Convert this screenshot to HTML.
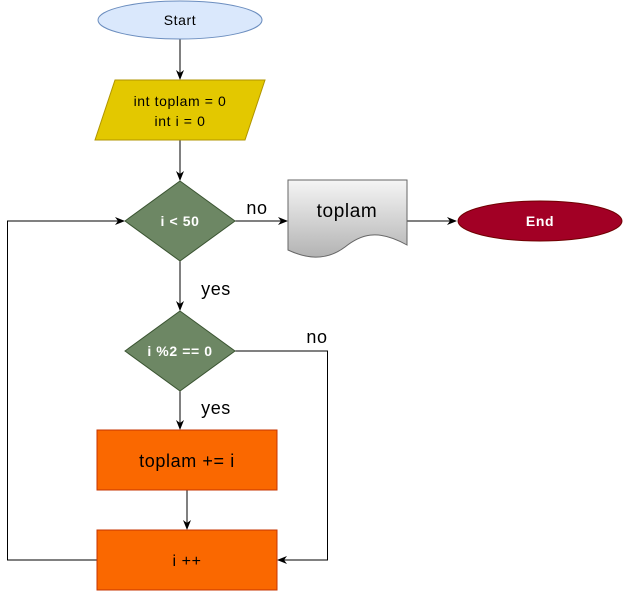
<!DOCTYPE html>
<html><head><meta charset="utf-8"><style>
html,body{margin:0;padding:0;background:#fff;width:623px;height:591px;overflow:hidden}
svg{display:block}
text{font-family:"Comic Sans MS","Liberation Sans",sans-serif;letter-spacing:0.6px}
</style></head><body>
<svg width="623" height="591" viewBox="0 0 623 591" xmlns="http://www.w3.org/2000/svg">
<defs>
<marker id="a" markerWidth="10" markerHeight="10" refX="9" refY="5" orient="auto" markerUnits="userSpaceOnUse">
<path d="M0,1 L10,5 L0,9 L3,5 Z" fill="#000"/></marker>
<linearGradient id="g" x1="0" y1="0" x2="0" y2="1"><stop offset="0" stop-color="#f5f5f5"/><stop offset="1" stop-color="#b3b3b3"/></linearGradient>
</defs>
<g stroke="#000" stroke-width="1" fill="none">
<line x1="180" y1="39" x2="180" y2="79" marker-end="url(#a)"/>
<line x1="180" y1="140" x2="180" y2="180" marker-end="url(#a)"/>
<line x1="235" y1="221" x2="287" y2="221" marker-end="url(#a)"/>
<line x1="407" y1="221" x2="456" y2="221" marker-end="url(#a)"/>
<line x1="180" y1="261" x2="180" y2="310" marker-end="url(#a)"/>
<line x1="180" y1="391" x2="180" y2="429" marker-end="url(#a)"/>
<line x1="187" y1="490" x2="187" y2="529" marker-end="url(#a)"/>
<polyline points="235,351 327.5,351 327.5,560 278,560" marker-end="url(#a)"/>
<polyline points="97,560 7.5,560 7.5,221 124,221" marker-end="url(#a)"/>
</g>
<ellipse cx="180" cy="20" rx="82" ry="19" fill="#dae8fc" stroke="#6c8ebf"/>
<text x="180" y="25" font-size="14" text-anchor="middle">Start</text>
<polygon points="115,80 265,80 245,140 95,140" fill="#e3c800" stroke="#b09500"/>
<text x="180" y="106" font-size="14" text-anchor="middle">int toplam = 0</text>
<text x="180" y="126" font-size="14" text-anchor="middle">int i = 0</text>
<polygon points="180,181 235,221 180,261 125,221" fill="#6d8764" stroke="#3a5431"/>
<text x="180" y="226" font-size="14" fill="#fff" font-weight="bold" text-anchor="middle">i &lt; 50</text>
<path d="M288,180 L407,180 L407,245 C377,228 360,235 345,247 C325,262 305,258 288,250 Z" fill="url(#g)" stroke="#666"/>
<text x="347" y="217" font-size="19" text-anchor="middle">toplam</text>
<ellipse cx="540" cy="221" rx="82" ry="20" fill="#a20025" stroke="#6f0000"/>
<text x="540" y="226" font-size="14" fill="#fff" font-weight="bold" text-anchor="middle">End</text>
<polygon points="180,311 235,351 180,391 125,351" fill="#6d8764" stroke="#3a5431"/>
<text x="180" y="356" font-size="14" fill="#fff" font-weight="bold" text-anchor="middle">i %2 == 0</text>
<rect x="97" y="430" width="180" height="60" fill="#fa6800" stroke="#c73500"/>
<text x="187" y="467" font-size="18" text-anchor="middle">toplam += i</text>
<rect x="97" y="530" width="180" height="60" fill="#fa6800" stroke="#c73500"/>
<text x="187" y="566" font-size="16" text-anchor="middle">i ++</text>
<text x="257" y="214" font-size="18" text-anchor="middle">no</text>
<text x="216" y="295" font-size="18" text-anchor="middle">yes</text>
<text x="317" y="343" font-size="18" text-anchor="middle">no</text>
<text x="216" y="414" font-size="18" text-anchor="middle">yes</text>
</svg>
</body></html>
